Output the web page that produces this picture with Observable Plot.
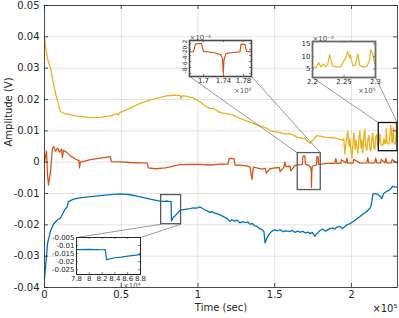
<!DOCTYPE html>
<html><head><meta charset="utf-8">
<script src="https://cdn.jsdelivr.net/npm/d3@7"></script>
<script src="https://cdn.jsdelivr.net/npm/@observablehq/plot@0.6"></script>
<style>
body{margin:0;background:#fff;}
#wrap{position:relative;width:399px;height:318px;overflow:hidden;}
#wrap svg{position:absolute;}
</style></head><body><div id="wrap"></div>
<script>
// ---------- data (time in s, amplitude in V) ----------
const blueT = [0,1300,1950,3900,5850,8000,10400,13650,14500,15600,18900,24000,29900,39700,45000,49400,55900,62400,68900,73500,76700,78000,80000,82000,82500,82700,83200,84000,85000,86000,87000,88000,88400,94900,97000,99000,101400,103000,104500,106000,107900,109000,111000,113000,114400,116000,117500,119000,120900,122000,124000,125500,127400,129000,131000,132500,133900,135500,137000,138500,140400,142000,143000,143700,144600,145600,147000,148200,150000,152000,153500,155400,157000,160000,161500,163000,165000,166500,168500,170000,171500,173000,174500,176200,177000,178200,179500,181400,183000,184500,186000,187900,189000,190500,192500,194000,195500,197000,199000,201000,203500,205000,207400,209500,212000,212700,213300,213900,215500,217200,218500,219800,221000,223000,225000,226900,228500,229500];
const blueV = [-0.0371,-0.0300,-0.0260,-0.0220,-0.0198,-0.0186,-0.0178,-0.0148,-0.0145,-0.0126,-0.0118,-0.0113,-0.0110,-0.0105,-0.0103,-0.0101,-0.0104,-0.0111,-0.0118,-0.0123,-0.0125,-0.0125,-0.0124,-0.0126,-0.0125,-0.0188,-0.0183,-0.0176,-0.0172,-0.0166,-0.0161,-0.0156,-0.0153,-0.0148,-0.0146,-0.0147,-0.0143,-0.0148,-0.0152,-0.0155,-0.0161,-0.0158,-0.0163,-0.0165,-0.0168,-0.0172,-0.0176,-0.0180,-0.0189,-0.0184,-0.0188,-0.0185,-0.0194,-0.0190,-0.0193,-0.0191,-0.0198,-0.0196,-0.0203,-0.0205,-0.0213,-0.0216,-0.0222,-0.0258,-0.0245,-0.0236,-0.0226,-0.0220,-0.0216,-0.0219,-0.0215,-0.0222,-0.0219,-0.0221,-0.0218,-0.0224,-0.0220,-0.0223,-0.0221,-0.0226,-0.0223,-0.0228,-0.0224,-0.0237,-0.0230,-0.0225,-0.0218,-0.0214,-0.0220,-0.0216,-0.0212,-0.0210,-0.0214,-0.0207,-0.0205,-0.0212,-0.0207,-0.0200,-0.0196,-0.0190,-0.0181,-0.0176,-0.0166,-0.0160,-0.0147,-0.0140,-0.0125,-0.0102,-0.0100,-0.0103,-0.0108,-0.0116,-0.0100,-0.0093,-0.0088,-0.0077,-0.0079,-0.0080];

const orangeT = [0,1300,1950,2600,3900,5200,5850,7150,8450,9750,11050,11700,12350,14300,16900,20200,22500,22800,23400,29900,36400,42900,43600,49400,55900,62400,67000,67600,72200,78700,81900,85100,88400,94900,101400,107900,114400,119600,120300,123500,124100,130700,133900,135200,136100,139000,141700,144000,144500,146900,150200,153000,153500,156000,156700,157300,160000,160500,163200,165000,167200,168000,168400,169600,170000,172000,173500,173800,173950,174100,174500,176000,177300,177500,178300,178600,179600,184000,189200,189800,190500,193000,193500,196300,197000,197600,201000,201500,205500,210000,210600,211300,215200,215800,216500,219000,219500,221700,222400,223000,226000,226500,229500];
const orangeV = [0.0000,0.0035,-0.0040,-0.0073,-0.0030,0.0045,0.0050,0.0035,0.0045,0.0032,0.0042,0.0015,0.0038,0.0032,0.0020,0.0010,0.0005,-0.0018,0.0000,0.0008,0.0013,0.0018,0.0002,0.0001,-0.0001,-0.0002,-0.0003,-0.0018,-0.0021,-0.0018,-0.0015,-0.0011,-0.0008,-0.0007,-0.0007,-0.0009,-0.0006,-0.0006,0.0012,0.0011,-0.0009,-0.0011,-0.0015,-0.0055,-0.0016,-0.0019,-0.0022,-0.0020,-0.0035,-0.0021,-0.0018,-0.0017,-0.0030,-0.0016,0.0000,-0.0014,-0.0013,-0.0028,-0.0010,-0.0009,-0.0008,-0.0007,0.0019,0.0020,-0.0006,-0.0010,-0.0018,-0.0030,-0.0080,-0.0035,-0.0013,-0.0010,-0.0008,0.0018,0.0016,-0.0006,-0.0007,-0.0004,-0.0004,0.0012,-0.0004,-0.0004,0.0008,-0.0003,0.0013,-0.0003,-0.0003,0.0009,-0.0003,-0.0002,0.0014,-0.0002,-0.0002,0.0013,-0.0002,-0.0002,0.0009,-0.0002,0.0012,-0.0002,-0.0002,0.0008,-0.0002];

const yellowT = [0,650,1950,3900,5850,7150,8450,10400,12350,15000,20200,29900,36400,42900,47500,48200,49000,52700,57900,63700,68900,75400,80000,85200,88400,89000,89700,93000,96900,101400,104700,107900,109900,114400,118300,122900,127400,133900,139100,145000,147000,151500,156700,160000,164500,169700,173000,176200,177500,182700,187900,191200,194400,195000,195700,196100,196500,197000,197700,198100,198500,199000,199600,200300,201000,201600,202000,202400,202900,203500,204200,205000,205500,206200,206800,207400,208000,208700,209300,210000,210600,211300,212000,212600,213300,213900,214500,215200,215800,216500,217200,217800,218500,219200,220000,220600,221000,221300,221700,222100,222400,222700,223000,223200,223800,224500,224900,225200,225600,225900,226000,226400,226800,227200,227500,228000,228400,228700,229100,229200,229500,229900,230000];
const yellowV = [0.0400,0.0370,0.0330,0.0300,0.0250,0.0220,0.0195,0.0162,0.0156,0.0153,0.0148,0.0142,0.0143,0.0148,0.0155,0.0150,0.0158,0.0165,0.0178,0.0190,0.0198,0.0207,0.0212,0.0214,0.0213,0.0203,0.0212,0.0210,0.0205,0.0192,0.0180,0.0170,0.0172,0.0158,0.0155,0.0150,0.0140,0.0128,0.0118,0.0108,0.0100,0.0097,0.0090,0.0091,0.0080,0.0075,0.0060,0.0078,0.0085,0.0080,0.0078,0.0075,0.0070,0.0075,0.0026,0.0048,0.0060,0.0082,0.0099,0.0064,0.0050,0.0075,0.0040,0.0013,0.0060,0.0093,0.0068,0.0040,0.0070,0.0052,0.0028,0.0085,0.0100,0.0045,0.0070,0.0030,0.0080,0.0105,0.0050,0.0038,0.0070,0.0085,0.0045,0.0035,0.0075,0.0093,0.0050,0.0040,0.0080,0.0088,0.0050,0.0060,0.0090,0.0055,0.0054,0.0056,0.0074,0.0058,0.0070,0.0060,0.0065,0.0106,0.0080,0.0062,0.0058,0.0058,0.0078,0.0090,0.0118,0.0094,0.0106,0.0062,0.0066,0.0110,0.0064,0.0058,0.0058,0.0062,0.0090,0.0126,0.0114,0.0070,0.0075];

// main axes ticks
const xTicks = [0, 50000, 100000, 150000, 200000];
const xTickLabels = ["0", "0.5", "1", "1.5", "2"];
const yTicks = [-0.04, -0.03, -0.02, -0.01, 0, 0.01, 0.02, 0.03, 0.04, 0.05];
const yTickLabels = ["-0.04", "-0.03", "-0.02", "-0.01", "0", "0.01", "0.02", "0.03", "0.04", "0.05"];

// zoom regions in data coordinates [t1, t2, v1, v2]
const blueBox = [76000, 89000, -0.0198, -0.0105];
const orangeBox = [165000, 180000, -0.0089, 0.0029];
const yellowBox = [217800, 230000, 0.0035, 0.0125];

// inset axes
const blueInsetX = [78000, 88000], blueInsetY = [-0.028, -0.005];
const blueInsetXTicks = [78000, 80000, 82000, 84000, 86000, 88000];
const blueInsetXLabels = ["7.8", "8", "8.2", "8.4", "8.6", "8.8"];
const blueInsetYTicks = [-0.025, -0.02, -0.015, -0.01, -0.005];
const blueInsetYLabels = ["-0.025", "-0.02", "-0.015", "-0.01", "-0.005"];

const orangeInsetX = [167200, 179600], orangeInsetY = [-0.009, 0.003];
const orangeInsetXTicks = [170000, 174000, 178000];
const orangeInsetXLabels = ["1.7", "1.74", "1.78"];
const orangeInsetYTicks = [-0.008, -0.006, -0.004, -0.002, 0, 0.002];
const orangeInsetYLabels = ["-8", "-6", "-4", "-2", "0", "2"];

const yellowInsetX = [220000, 230000], yellowInsetY = [0.0015, 0.016];
const yellowInsetXTicks = [220000, 225000, 230000];
const yellowInsetXLabels = ["2.2", "2.25", "2.3"];
const yellowInsetYTicks = [0.005, 0.01, 0.015];
const yellowInsetYLabels = ["5", "10", "15"];

const BLUE = "#0072BD", ORANGE = "#D95319", YELLOW = "#EDB120";
const toRows = (T, V) => T.map((t, i) => ({t, v: V[i]}));
const blue = toRows(blueT, blueV), orange = toRows(orangeT, orangeV), yellow = toRows(yellowT, yellowV);

// ---------- layout ----------
const W = 399, H = 318, mL = 44, mR = 2, mT = 5, mB = 31;
const fw = W - mL - mR, fh = H - mT - mB;
const X = Plot.scale({x: {domain: [0, 230000], range: [mL, W - mR]}});
const Y = Plot.scale({y: {domain: [-0.04, 0.05], range: [H - mB, mT]}});

// inset frames in pixels [left, top, right, bottom]
const insets = [
  {px: [76, 237, 140, 274], xd: blueInsetX, yd: blueInsetY, xt: blueInsetXTicks, xl: blueInsetXLabels, yt: blueInsetYTicks, yl: blueInsetYLabels,
   data: blue, color: BLUE, frame: "#262626", fsw: 1, xexp: "×10⁴", yexp: null, box: blueBox, boxColor: "#5a5a5a", side: "top", xexpDy: 13, rot: false},
  {px: [189, 40, 251, 76], xd: orangeInsetX, yd: orangeInsetY, xt: orangeInsetXTicks, xl: orangeInsetXLabels, yt: orangeInsetYTicks, yl: orangeInsetYLabels,
   data: orange, color: ORANGE, frame: "#4a4a4a", fsw: 1.6, xexp: "×10⁵", yexp: "×10⁻³", box: orangeBox, boxColor: "#5a5a5a", side: "bottom", xexpDy: 16, rot: true},
  {px: [312, 41, 375, 77], xd: yellowInsetX, yd: yellowInsetY, xt: yellowInsetXTicks, xl: yellowInsetXLabels, yt: yellowInsetYTicks, yl: yellowInsetYLabels,
   data: yellow, color: YELLOW, frame: "#6a6a6a", fsw: 1.8, xexp: "×10⁵", yexp: "×10⁻³", box: yellowBox, boxColor: "#111", side: "bottom", xexpDy: 15, rot: false}
];

// connector lines: inset corner (pixel → data via inverse) to box corner
const links = [];
for (const ins of insets) {
  const [l, t, r, b] = ins.px, [t1, t2, v1, v2] = ins.box;
  if (ins.side === "top") {
    links.push({x1: X.invert(l), y1: Y.invert(t), x2: t1, y2: v1});
    links.push({x1: X.invert(r), y1: Y.invert(t), x2: t2, y2: v1});
  } else {
    links.push({x1: X.invert(l), y1: Y.invert(b), x2: t1, y2: v2});
    links.push({x1: X.invert(r), y1: Y.invert(b), x2: t2, y2: v2});
  }
}

const TXT = "#262626";
const main = Plot.plot({
  width: W, height: H, marginLeft: mL, marginRight: mR, marginTop: mT, marginBottom: mB,
  x: {domain: [0, 230000], axis: null},
  y: {domain: [-0.04, 0.05], axis: null},
  style: {fontFamily: "DejaVu Sans", fontSize: "10px", color: TXT, background: "white"},
  marks: [
    Plot.ruleX(xTicks, {x: d => d, stroke: "#000", strokeOpacity: 0.11}),
    Plot.ruleY(yTicks, {y: d => d, stroke: "#000", strokeOpacity: 0.11}),
    Plot.line(yellow, {x: "t", y: "v", stroke: YELLOW, strokeWidth: 1.3}),
    Plot.line(orange, {x: "t", y: "v", stroke: ORANGE, strokeWidth: 1.3}),
    Plot.line(blue, {x: "t", y: "v", stroke: BLUE, strokeWidth: 1.3}),
    ...insets.map(ins => Plot.rect([ins.box], {x1: d => d[0], x2: d => d[1], y1: d => d[2], y2: d => d[3],
      fill: "none", stroke: ins.boxColor, strokeWidth: 1.3})),
    Plot.link(links, {x1: "x1", y1: "y1", x2: "x2", y2: "y2", stroke: "#555", strokeWidth: 0.6}),
    Plot.frame({stroke: TXT, strokeWidth: 0.8}),
    Plot.tickX(xTicks, {x: d => d, insetTop: fh - 4, stroke: TXT, strokeWidth: 0.8}),
    Plot.tickX(xTicks, {x: d => d, insetBottom: fh - 4, stroke: TXT, strokeWidth: 0.8}),
    Plot.tickY(yTicks, {y: d => d, insetRight: fw - 4, stroke: TXT, strokeWidth: 0.8}),
    Plot.tickY(yTicks, {y: d => d, insetLeft: fw - 4, stroke: TXT, strokeWidth: 0.8}),
    Plot.text(xTicks, {x: d => d, text: (d, i) => xTickLabels[i], frameAnchor: "bottom", dy: 10, fill: TXT}),
    Plot.text(yTicks, {y: d => d, text: (d, i) => yTickLabels[i], frameAnchor: "left", textAnchor: "end", dx: -5, fill: TXT}),
    Plot.text(["Time (sec)"], {frameAnchor: "bottom", dy: 23, fill: TXT}),
    Plot.text(["Amplitude (V)"], {frameAnchor: "left", rotate: -90, dx: -36, fill: TXT}),
    Plot.text(["×10⁵"], {frameAnchor: "bottom-right", textAnchor: "end", dy: 24, fill: TXT})
  ]
});
main.style.left = "0px"; main.style.top = "0px";
const wrap = document.getElementById("wrap");
wrap.appendChild(main);

// ---------- insets ----------
for (const ins of insets) {
  const [l, t, r, b] = ins.px;
  const iw = r - l, ih = b - t;
  const m = {l: 34, r: 14, t: 12, b: 24};
  const rows = ins.data.filter(d => d.t >= ins.xd[0] && d.t <= ins.xd[1]);
  const marks = [
    Plot.frame({fill: "white"}),
    Plot.line(rows, {x: "t", y: "v", stroke: ins.color, strokeWidth: 1.2, clip: true}),
    Plot.tickX(ins.xt, {x: d => d, insetTop: ih - 2, stroke: TXT, strokeWidth: 0.6}),
    Plot.tickX(ins.xt, {x: d => d, insetBottom: ih - 2, stroke: TXT, strokeWidth: 0.6}),
    Plot.tickY(ins.yt, {y: d => d, insetRight: iw - 2, stroke: TXT, strokeWidth: 0.6}),
    Plot.tickY(ins.yt, {y: d => d, insetLeft: iw - 2, stroke: TXT, strokeWidth: 0.6}),
    Plot.frame({stroke: ins.frame, strokeWidth: ins.fsw}),
    Plot.text(ins.xt, {x: d => d, text: (d, i) => ins.xl[i], frameAnchor: "bottom", dy: 6.5, fill: TXT}),
    ins.rot
      ? Plot.text(ins.yt, {y: d => d, text: (d, i) => ins.yl[i], frameAnchor: "left", rotate: -90, dx: -4, fontSize: 6, fill: TXT})
      : Plot.text(ins.yt, {y: d => d, text: (d, i) => ins.yl[i], frameAnchor: "left", textAnchor: "end", dx: -2, fill: TXT}),
    Plot.text([ins.xexp], {frameAnchor: "bottom-right", textAnchor: "end", dy: ins.xexpDy, fill: "#555"})
  ];
  if (ins.yexp) marks.push(Plot.text([ins.yexp], {frameAnchor: "top-left", textAnchor: "start", dy: -5, fill: "#555"}));
  const svg = Plot.plot({
    width: iw + m.l + m.r, height: ih + m.t + m.b,
    marginLeft: m.l, marginRight: m.r, marginTop: m.t, marginBottom: m.b,
    x: {domain: ins.xd, axis: null}, y: {domain: ins.yd, axis: null},
    style: {fontFamily: "DejaVu Sans", fontSize: "7px", color: TXT, background: "none", overflow: "visible"},
    marks
  });
  svg.style.left = (l - m.l) + "px";
  svg.style.top = (t - m.t) + "px";
  wrap.appendChild(svg);
}
</script></body></html>
